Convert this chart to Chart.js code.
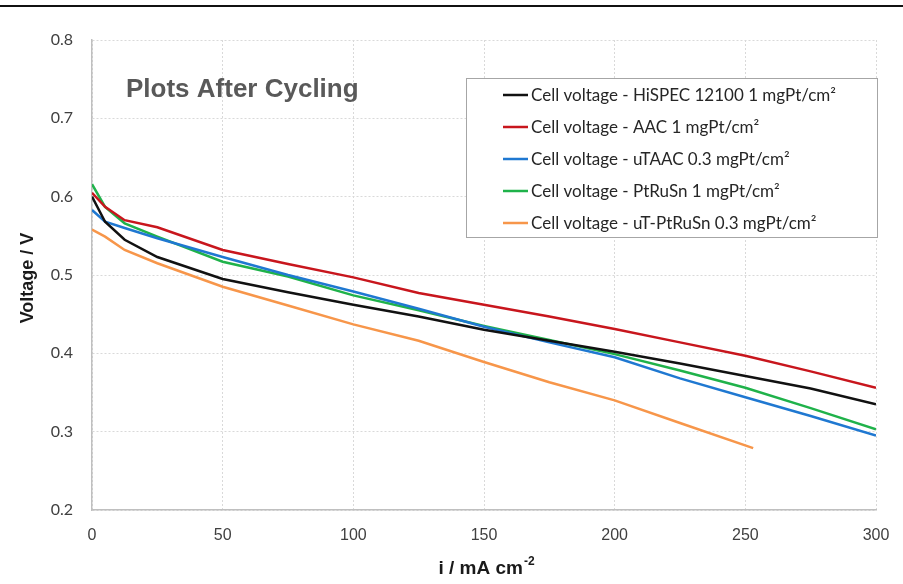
<!DOCTYPE html>
<html>
<head>
<meta charset="utf-8">
<script src="https://cdn.jsdelivr.net/npm/chart.js@4.4.1/dist/chart.umd.min.js"></script>
<style>
  html, body { margin: 0; padding: 0; background: #fff; }
</style>
</head>
<body>
<canvas id="chart" width="903" height="584"></canvas>
<script>
// current density points (mA/cm2)
const currentPts = [0, 5, 12.5, 25, 50, 75, 100, 125, 150, 175, 200, 225, 250, 275, 300];
const orangePts  = [0, 5, 12.5, 25, 50, 75, 100, 125, 150, 175, 200, 225, 253];

// cell voltages (V)
const hispec  = [0.600, 0.568, 0.545, 0.523, 0.495, 0.478, 0.462, 0.447, 0.430, 0.416, 0.402, 0.387, 0.371, 0.355, 0.335];
const aac     = [0.605, 0.587, 0.570, 0.561, 0.532, 0.514, 0.497, 0.477, 0.462, 0.447, 0.431, 0.414, 0.397, 0.377, 0.356];
const utaac   = [0.583, 0.568, 0.560, 0.547, 0.523, 0.500, 0.479, 0.457, 0.434, 0.414, 0.395, 0.368, 0.344, 0.320, 0.295];
const ptrusn  = [0.616, 0.587, 0.566, 0.549, 0.517, 0.498, 0.474, 0.455, 0.435, 0.417, 0.399, 0.378, 0.356, 0.330, 0.303];
const utptrusn = [0.558, 0.549, 0.532, 0.515, 0.485, 0.461, 0.437, 0.416, 0.389, 0.363, 0.340, 0.311, 0.279];

const seriesNames = [
  'Cell voltage - HiSPEC 12100 1 mgPt/cm\u00b2',
  'Cell voltage - AAC 1 mgPt/cm\u00b2',
  'Cell voltage - uTAAC 0.3 mgPt/cm\u00b2',
  'Cell voltage - PtRuSn 1 mgPt/cm\u00b2',
  'Cell voltage - uT-PtRuSn 0.3 mgPt/cm\u00b2'
];
const xTicks = [0, 50, 100, 150, 200, 250, 300];
const yTicks = [0.2, 0.3, 0.4, 0.5, 0.6, 0.7, 0.8];

const lineColors = ['#111111', '#c8161d', '#1f78d1', '#1fb24a', '#f7964a'];

function pairs(xs, ys) {
  return ys.map((y, i) => ({ x: xs[i], y: y }));
}

const allSeries = [
  pairs(currentPts, hispec),
  pairs(currentPts, aac),
  pairs(currentPts, utaac),
  pairs(currentPts, ptrusn),
  pairs(orangePts, utptrusn)
];

// extra drawing: title, axis titles, legend box, top rule
const decor = {
  id: 'decor',
  afterDraw(chart) {
    const c = chart.ctx;
    c.save();

    // top rule
    c.strokeStyle = '#111';
    c.lineWidth = 2;
    c.beginPath();
    c.moveTo(0, 6);
    c.lineTo(903, 6);
    c.stroke();

    // inner title
    c.fillStyle = '#595959';
    c.font = 'bold 26px "Liberation Sans", Arial, sans-serif';
    c.textBaseline = 'alphabetic';
    c.textAlign = 'left';
    c.fillText('Plots After Cycling', 126, 97);

    // y title
    c.save();
    c.translate(33, 278);
    c.rotate(-Math.PI / 2);
    c.textAlign = 'center';
    c.fillStyle = '#1a1a1a';
    c.font = 'bold 18px "Liberation Sans", Arial, sans-serif';
    c.fillText('Voltage / V', 0, 0);
    c.restore();

    // x title with superscript
    c.fillStyle = '#1a1a1a';
    const bigFont = 'bold 19px "Liberation Sans", Arial, sans-serif';
    const supFont = 'bold 12px "Liberation Sans", Arial, sans-serif';
    const main = 'i / mA cm';
    c.font = bigFont;
    const wMain = c.measureText(main).width;
    c.font = supFont;
    const wSup = c.measureText('-2').width;
    const x0 = 486 - (wMain + wSup) / 2;
    c.font = bigFont;
    c.fillText(main, x0, 574);
    c.font = supFont;
    c.fillText('-2', x0 + wMain + 1, 565);

    // legend box
    c.fillStyle = '#ffffff';
    c.fillRect(466, 78, 411, 159);
    c.strokeStyle = '#a6a6a6';
    c.lineWidth = 1;
    c.strokeRect(466.5, 78.5, 411, 159);
    c.font = '17px Lato, "Open Sans", sans-serif';
    c.textBaseline = 'middle';
    chart.data.datasets.forEach((ds, i) => {
      const y = 95 + i * 32;
      c.strokeStyle = ds.borderColor;
      c.lineWidth = 2.5;
      c.beginPath();
      c.moveTo(503, y);
      c.lineTo(528, y);
      c.stroke();
      c.fillStyle = '#262626';
      c.fillText(ds.label, 531, y + 1);
    });

    c.restore();
  }
};

const ctx = document.getElementById('chart').getContext('2d');
const myChart = new Chart(ctx, {
  type: 'scatter',
  data: {
    datasets: allSeries.map((pts, i) => ({
      label: seriesNames[i],
      data: pts,
      showLine: true,
      borderColor: lineColors[i],
      backgroundColor: lineColors[i],
      borderWidth: 2.5,
      pointRadius: 0,
      tension: 0
    }))
  },
  options: {
    responsive: false,
    animation: false,
    layout: { padding: { left: 0, top: 40, right: 27, bottom: 0 } },
    plugins: {
      legend: { display: false },
      tooltip: { enabled: false }
    },
    scales: {
      x: {
        type: 'linear',
        min: 0,
        max: 300,
        afterBuildTicks: s => { s.ticks = xTicks.map(v => ({ value: v })); },
        afterFit: s => { s.height = 74; s.paddingLeft = 0; s.paddingRight = 0; },
        ticks: {
          padding: 16,
          color: '#404040',
          font: { family: '"Liberation Sans", Arial, sans-serif', size: 16 }
        },
        grid: { color: '#d9d9d9', drawTicks: false },
        border: { color: '#bfbfbf', width: 1.5, dash: [2, 2] }
      },
      y: {
        min: 0.2,
        max: 0.8,
        afterBuildTicks: s => { s.ticks = yTicks.map(v => ({ value: v })); },
        afterFit: s => { s.width = 92; s.paddingTop = 0; s.paddingBottom = 0; },
        ticks: {
          padding: 19,
          color: '#404040',
          font: { family: 'Lato, "Open Sans", sans-serif', size: 16 },
          callback: v => v.toFixed(1)
        },
        grid: { color: '#d9d9d9', drawTicks: false },
        border: { color: '#bfbfbf', width: 1.5, dash: [2, 2] }
      }
    }
  },
  plugins: [decor]
});
</script>
</body>
</html>
